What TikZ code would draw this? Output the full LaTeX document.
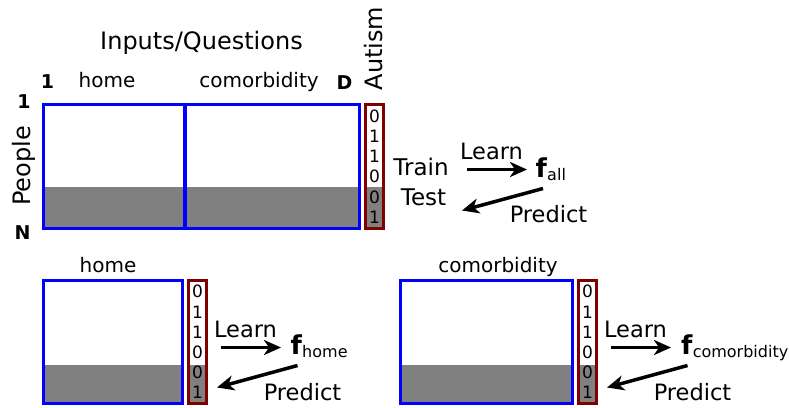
\documentclass[tikz,border=0pt]{standalone}
\usepackage{fontspec}
\setmainfont{DejaVu Sans}
\usetikzlibrary{arrows.meta}

\definecolor{boxblue}{RGB}{0,0,255}
\definecolor{boxred}{RGB}{128,0,0}
\definecolor{testgray}{RGB}{128,128,128}

\newcommand\pxsize[1]{\fontsize{#1}{#1}\selectfont}

\tikzset{
  % feature block: white on top, grey test rows at the bottom
  featbox/.style 2 args={draw=boxblue, line width=3.2pt, fill=white,
    minimum width=#1, inner sep=0pt,
    path picture={\fill[testgray] (path picture bounding box.south west)
      rectangle ([yshift=#2]path picture bounding box.south east);}},
  % label column with the 0/1 targets
  labbox/.style={draw=boxred, line width=3.2pt, fill=white,
    minimum width=18pt, inner sep=0pt, align=center,
    font=\fontsize{17}{20.2}\selectfont,
    path picture={\fill[testgray] (path picture bounding box.south west)
      rectangle ([yshift=#1]path picture bounding box.south east);}},
  txt/.style={inner sep=0pt, anchor=base, font=\pxsize{#1}},
  boldtxt/.style={inner sep=0pt, anchor=base, font=\pxsize{#1}\bfseries},
  flow/.style={line width=3.5pt, -{Stealth[length=17pt,width=15pt,inset=5pt]}},
}

\newcommand\fmodel[1]{\textbf{\pxsize{26}f}\raisebox{-3pt}{\pxsize{16}#1}}

\begin{document}
\begin{tikzpicture}[x=1pt, y=-1pt]
\useasboundingbox (0,0) rectangle (789,407);

% ---------------- full data set ----------------
\node[featbox={141pt}{41.5pt}, minimum height=124pt] (homeA) at (114,166.5) {};
\node[featbox={174.5pt}{41.5pt}, minimum height=124pt] (comA) at (272.25,166.5) {};
\node[labbox=41.5pt, minimum height=124pt] (labA) at (374.5,166.5) {0\\1\\1\\0\\0\\1};

\node[txt=24] (inq) at (201.5,49) {Inputs/Questions};
\node[txt=20] (homeAt) at (107,87) {home};
\node[txt=20] (comAt) at (259,87) {comorbidity};
\node[boldtxt=19] (one) at (47.5,88) {1};
\node[boldtxt=19] (dee) at (344.5,89) {D};
\node[txt=24, rotate=90] (aut) at (382,48.5) {Autism};
\node[txt=24, rotate=90] (ppl) at (30,166) {People};
\node[boldtxt=19] (oneL) at (24,108) {1};
\node[boldtxt=19] (enn) at (22.5,239) {N};

\node[txt=23] (train) at (421,175) {Train};
\node[txt=23] (test) at (423.5,205) {Test};
\node[txt=22.5] (learnA) at (491.5,159) {Learn};
\node[txt=22.5] (predA) at (548.5,222) {Predict};
\node[inner sep=0pt, anchor=base west] (fall) at (535.5,177) {\fmodel{all}};

\coordinate (lA1) at (467,169.5);
\coordinate (lA2) at (527,169.5);
\coordinate (pA1) at (543,188.5);
\coordinate (pA2) at (462,210.5);
\draw[flow] (lA1) -- (lA2);
\draw[flow] (pA1) -- (pA2);

% ---------------- home subset ----------------
\node[featbox={139pt}{38.5pt}, minimum height=123pt] (homeB) at (113,342) {};
\node[labbox=38.5pt, minimum height=123pt] (labB) at (197.5,342) {0\\1\\1\\0\\0\\1};
\node[txt=20] (homeBt) at (108,272) {home};
\node[txt=22.5] (learnB) at (245.5,337) {Learn};
\node[txt=22.5] (predB) at (302.5,400) {Predict};
\node[inner sep=0pt, anchor=base west] (fhome) at (290.5,354) {\fmodel{home}};

\coordinate (lB1) at (221,347.5);
\coordinate (lB2) at (281,347.5);
\coordinate (pB1) at (297.5,365.5);
\coordinate (pB2) at (217,387.5);
\draw[flow] (lB1) -- (lB2);
\draw[flow] (pB1) -- (pB2);

% ---------------- comorbidity subset ----------------
\node[featbox={172pt}{38.5pt}, minimum height=123pt] (comC) at (486.5,342) {};
\node[labbox=38.5pt, minimum height=123pt] (labC) at (587.5,342) {0\\1\\1\\0\\0\\1};
\node[txt=20] (comCt) at (498,272) {comorbidity};
\node[txt=22.5] (learnC) at (635.5,337) {Learn};
\node[txt=22.5] (predC) at (692.5,400) {Predict};
\node[inner sep=0pt, anchor=base west] (fcom) at (681,354) {\fmodel{comorbidity}};

\coordinate (lC1) at (611,347.5);
\coordinate (lC2) at (671,347.5);
\coordinate (pC1) at (687.5,365.5);
\coordinate (pC2) at (607,387.5);
\draw[flow] (lC1) -- (lC2);
\draw[flow] (pC1) -- (pC2);
\end{tikzpicture}
\end{document}
